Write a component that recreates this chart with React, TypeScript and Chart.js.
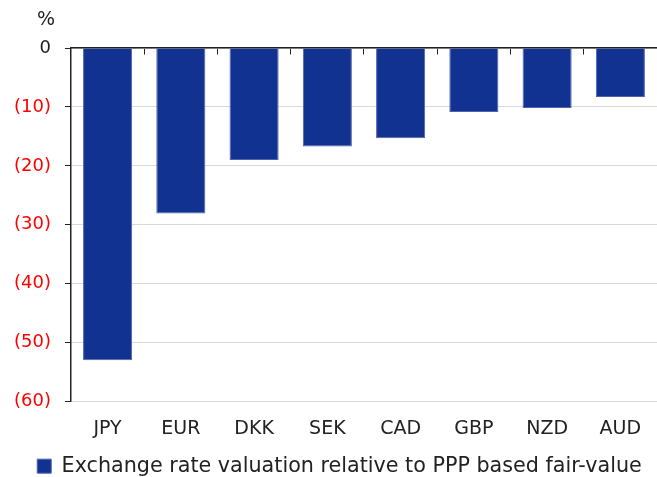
import React, { useEffect, useRef } from "react";
import { Chart, registerables } from "chart.js";

Chart.register(...registerables);

const categories = ["JPY", "EUR", "DKK", "SEK", "CAD", "GBP", "NZD", "AUD"];
const valuation = [-53.0, -28.1, -19.0, -16.7, -15.3, -10.85, -10.2, -8.3];
const seriesLabel = "Exchange rate valuation relative to PPP based fair-value";
const unitLabel = "%";

const FONT = "'DejaVu Sans', sans-serif";

export default function App() {
  const ref = useRef<HTMLCanvasElement | null>(null);

  useEffect(() => {
    if (!ref.current) return;
    const unitPlugin = {
      id: "unitLabel",
      afterLayout(chart: any) {
        if (chart.legend) {
          chart.legend.left += 11;
          chart.legend.right += 11;
        }
      },
      afterDraw(chart: any) {
        const { ctx, chartArea } = chart;
        ctx.save();
        ctx.font = `19px ${FONT}`;
        ctx.fillStyle = "#222";
        ctx.textAlign = "center";
        ctx.textBaseline = "middle";
        ctx.fillText(unitLabel, chartArea.left - 25, chartArea.top - 28);
        ctx.restore();
      },
    };
    const chart = new Chart(ref.current, {
      type: "bar",
      data: {
        labels: categories,
        datasets: [
          {
            label: seriesLabel,
            data: valuation,
            backgroundColor: "#123291",
            borderColor: "#4d63ad",
            borderWidth: 1,
            barPercentage: 0.67,
            categoryPercentage: 1,
          },
        ],
      },
      options: {
        animation: false,
        responsive: true,
        maintainAspectRatio: false,
        layout: { padding: { top: 48, right: 0, left: 0, bottom: -9.5 } },
        plugins: {
          tooltip: { enabled: false },
          legend: {
            position: "bottom",
            labels: {
              boxWidth: 14,
              boxHeight: 14,
              color: "#222",
              font: { family: FONT, size: 20.7 },
              padding: 7.5,
            },
          },
        },
        scales: {
          x: {
            position: "bottom",
            offset: true,
            border: { display: false },
            grid: { display: false },
            ticks: {
              color: "#222",
              font: { family: FONT, size: 19 },
              padding: 8,
            },
          },
          x2: {
            type: "category",
            labels: categories,
            position: { y: 0 } as any,
            offset: true,
            border: { display: true, color: "#222", width: 1.5 },
            grid: {
              offset: true,
              drawOnChartArea: false,
              drawTicks: true,
              tickLength: 6,
              tickColor: "#222",
            },
            ticks: { display: false },
          },
          y: {
            min: -60,
            max: 0,
            border: { display: true, color: "#222", width: 1.5 },
            grid: {
              color: "#d9d9d9",
              tickColor: "#222",
              tickLength: 6,
            },
            ticks: {
              stepSize: 10,
              padding: 14,
              font: { family: FONT, size: 18 },
              color: (c: any) => (c.tick && c.tick.value < 0 ? "#ff0000" : "#222"),
              callback: (v: any) => {
                const n = Number(v);
                return n < 0 ? `(${Math.abs(n)})` : `${n}`;
              },
            },
          },
        },
      },
      plugins: [unitPlugin],
    });
    return () => chart.destroy();
  }, []);

  return (
    <div style={{ position: "fixed", left: 0, top: 0, width: 657, height: 477, background: "#fff" }}>
      <canvas ref={ref} />
    </div>
  );
}
